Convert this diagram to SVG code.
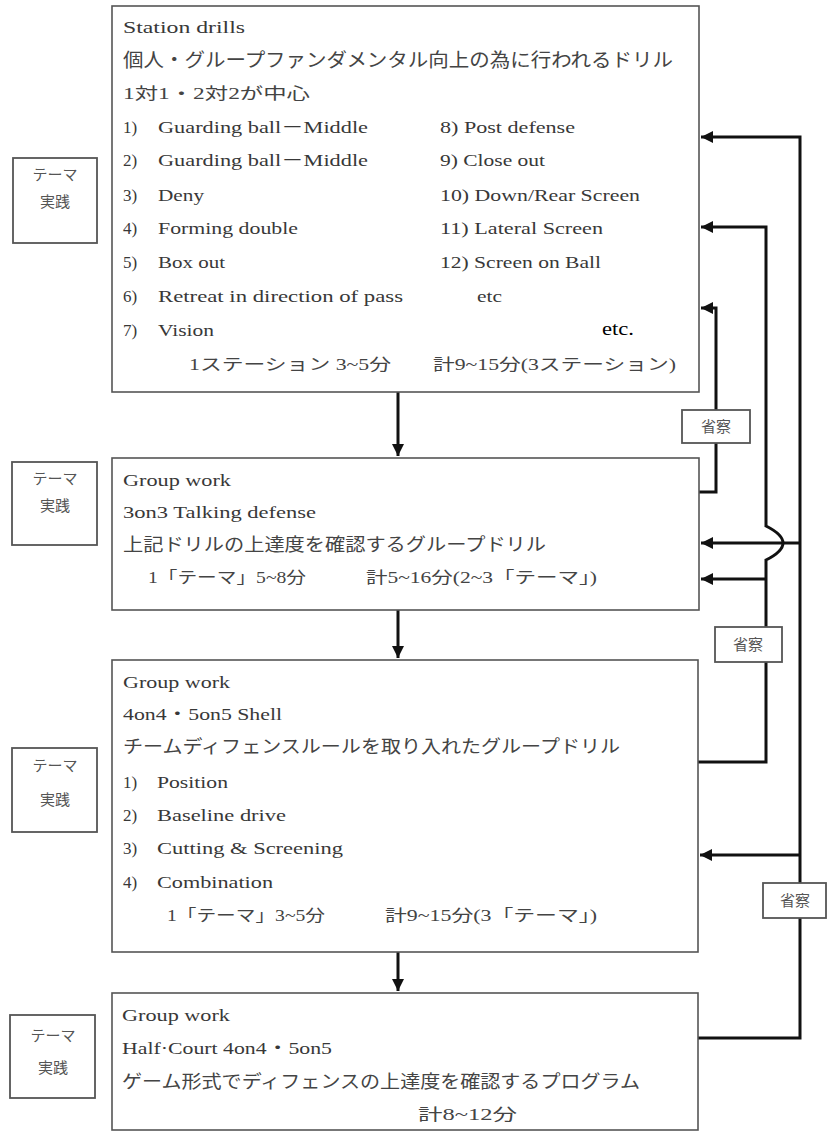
<svg xmlns="http://www.w3.org/2000/svg" width="827" height="1133" viewBox="0 0 827 1133">
<style>
.box{fill:#fff;stroke:#555;stroke-width:1.6}
.lbl{fill:#fff;stroke:#555;stroke-width:1.8}
.t{font-family:"Liberation Serif","Noto Sans CJK JP",serif;font-size:17px;fill:#383838}
.j{font-family:"Liberation Serif","Noto Sans CJK JP",serif;font-size:17px;fill:#444}
.lt{font-family:"Noto Sans CJK JP",sans-serif;font-size:15px;fill:#555;text-anchor:middle}
.c{fill:none;stroke:#111;stroke-width:3}
</style>
<defs>
<marker id="ah" viewBox="0 0 10 10" refX="10" refY="5" markerWidth="4" markerHeight="4" orient="auto" markerUnits="strokeWidth">
<path d="M0,0 L10,5 L0,10 z" fill="#111"/>
</marker>
</defs>
<rect width="827" height="1133" fill="#fff"/>

<g id="connectors">
<path class="c" d="M398,392 V456" marker-end="url(#ah)"/>
<path class="c" d="M398,610 V658" marker-end="url(#ah)"/>
<path class="c" d="M398,952 V991" marker-end="url(#ah)"/>
<path class="c" d="M698,1038 H800 V137 H701" marker-end="url(#ah)"/>
<path class="c" d="M800,543 H701" marker-end="url(#ah)"/>
<path class="c" d="M800,855 H700" marker-end="url(#ah)"/>
<path class="c" d="M698,762 H766 V560 Q800,543 766,526 V227 H701" marker-end="url(#ah)"/>
<path class="c" d="M766,579 H701" marker-end="url(#ah)"/>
<path class="c" d="M699,492 H716 V308 H701" marker-end="url(#ah)"/>
</g>

<g id="reflect1">
<rect class="lbl" x="682" y="410" width="68" height="33"/>
<text class="lt" x="716" y="432">省察</text>
</g>
<g id="reflect2">
<rect class="lbl" x="715" y="627" width="67" height="35"/>
<text class="lt" x="748" y="650">省察</text>
</g>
<g id="reflect3">
<rect class="lbl" x="763" y="883" width="63" height="35"/>
<text class="lt" x="795" y="906">省察</text>
</g>

<g id="label1">
<rect class="lbl" x="13" y="158" width="84" height="85"/>
<text class="lt" x="55" y="180">テーマ</text>
<text class="lt" x="55" y="207">実践</text>
</g>
<g id="label2">
<rect class="lbl" x="12" y="462" width="85" height="83"/>
<text class="lt" x="55" y="484">テーマ</text>
<text class="lt" x="55" y="511">実践</text>
</g>
<g id="label3">
<rect class="lbl" x="12" y="748" width="85" height="84"/>
<text class="lt" x="55" y="771">テーマ</text>
<text class="lt" x="55" y="805">実践</text>
</g>
<g id="label4">
<rect class="lbl" x="10" y="1015" width="85" height="83"/>
<text class="lt" x="53" y="1041">テーマ</text>
<text class="lt" x="53" y="1073">実践</text>
</g>

<g id="station">
<rect class="box" x="112" y="6" width="587" height="386"/>
<text class="t" x="123" y="33" textLength="122" lengthAdjust="spacingAndGlyphs">Station drills</text>
<text class="j" x="123" y="67" font-size="19" textLength="550" lengthAdjust="spacingAndGlyphs" style="font-size:19px">個人・グループファンダメンタル向上の為に行われるドリル</text>
<text class="j" x="123" y="99" textLength="187" lengthAdjust="spacingAndGlyphs" style="font-size:16px">1対1・2対2が中心</text>
<text class="t" x="123" y="133">1)</text><text class="t" x="158" y="133" textLength="210" lengthAdjust="spacingAndGlyphs">Guarding ball－Middle</text>
<text class="t" x="123" y="166">2)</text><text class="t" x="158" y="166" textLength="210" lengthAdjust="spacingAndGlyphs">Guarding ball－Middle</text>
<text class="t" x="123" y="201">3)</text><text class="t" x="158" y="201" textLength="46" lengthAdjust="spacingAndGlyphs">Deny</text>
<text class="t" x="123" y="234">4)</text><text class="t" x="158" y="234" textLength="140" lengthAdjust="spacingAndGlyphs">Forming double</text>
<text class="t" x="123" y="268">5)</text><text class="t" x="158" y="268" textLength="67" lengthAdjust="spacingAndGlyphs">Box out</text>
<text class="t" x="123" y="302">6)</text><text class="t" x="158" y="302" textLength="245" lengthAdjust="spacingAndGlyphs">Retreat in direction of pass</text>
<text class="t" x="123" y="336">7)</text><text class="t" x="158" y="336" textLength="56" lengthAdjust="spacingAndGlyphs">Vision</text>
<text class="t" x="440" y="133" textLength="135" lengthAdjust="spacingAndGlyphs">8) Post defense</text>
<text class="t" x="440" y="166" textLength="105" lengthAdjust="spacingAndGlyphs">9) Close out</text>
<text class="t" x="440" y="201" textLength="200" lengthAdjust="spacingAndGlyphs">10) Down/Rear Screen</text>
<text class="t" x="440" y="234" textLength="163" lengthAdjust="spacingAndGlyphs">11) Lateral Screen</text>
<text class="t" x="440" y="268" textLength="161" lengthAdjust="spacingAndGlyphs">12) Screen on Ball</text>
<text class="t" x="477" y="302" textLength="25" lengthAdjust="spacingAndGlyphs">etc</text>
<text x="602" y="335" font-family="Liberation Serif, serif" font-size="19" fill="#000" textLength="32" lengthAdjust="spacingAndGlyphs">etc.</text>
<text class="j" x="189" y="370" textLength="202" lengthAdjust="spacingAndGlyphs" style="font-size:16px">1ステーション 3~5分</text>
<text class="j" x="433" y="370" textLength="243" lengthAdjust="spacingAndGlyphs" style="font-size:16px">計9~15分(3ステーション)</text>
</g>

<g id="group3on3">
<rect class="box" x="112" y="458" width="587" height="152"/>
<text class="t" x="123" y="486" textLength="108" lengthAdjust="spacingAndGlyphs">Group work</text>
<text class="t" x="123" y="518" textLength="193" lengthAdjust="spacingAndGlyphs">3on3 Talking defense</text>
<text class="j" x="123" y="551" textLength="423" lengthAdjust="spacingAndGlyphs" style="font-size:18px">上記ドリルの上達度を確認するグループドリル</text>
<text class="j" x="148" y="583" textLength="158" lengthAdjust="spacingAndGlyphs" style="font-size:16px">1「テーマ」5~8分</text>
<text class="j" x="366" y="583" textLength="231" lengthAdjust="spacingAndGlyphs" style="font-size:16px">計5~16分(2~3「テーマ」)</text>
</g>

<g id="shell">
<rect class="box" x="112" y="660" width="586" height="292"/>
<text class="t" x="123" y="688" textLength="107" lengthAdjust="spacingAndGlyphs">Group work</text>
<text class="t" x="123" y="720" textLength="159" lengthAdjust="spacingAndGlyphs">4on4・5on5 Shell</text>
<text class="j" x="123" y="753" textLength="497" lengthAdjust="spacingAndGlyphs" style="font-size:18px">チームディフェンスルールを取り入れたグループドリル</text>
<text class="t" x="123" y="788">1)</text><text class="t" x="157" y="788" textLength="71" lengthAdjust="spacingAndGlyphs">Position</text>
<text class="t" x="123" y="821">2)</text><text class="t" x="157" y="821" textLength="129" lengthAdjust="spacingAndGlyphs">Baseline drive</text>
<text class="t" x="123" y="854">3)</text><text class="t" x="157" y="854" textLength="186" lengthAdjust="spacingAndGlyphs">Cutting &amp; Screening</text>
<text class="t" x="123" y="888">4)</text><text class="t" x="157" y="888" textLength="116" lengthAdjust="spacingAndGlyphs">Combination</text>
<text class="j" x="167" y="921" textLength="158" lengthAdjust="spacingAndGlyphs" style="font-size:16px">1「テーマ」3~5分</text>
<text class="j" x="385" y="921" textLength="212" lengthAdjust="spacingAndGlyphs" style="font-size:16px">計9~15分(3「テーマ」)</text>
</g>

<g id="halfcourt">
<rect class="box" x="112" y="993" width="586" height="137"/>
<text class="t" x="122" y="1021" textLength="108" lengthAdjust="spacingAndGlyphs">Group work</text>
<text class="t" x="122" y="1054" textLength="210" lengthAdjust="spacingAndGlyphs">Half·Court 4on4・5on5</text>
<text class="j" x="122" y="1088" textLength="518" lengthAdjust="spacingAndGlyphs" style="font-size:18px">ゲーム形式でディフェンスの上達度を確認するプログラム</text>
<text class="j" x="418" y="1120" textLength="99" lengthAdjust="spacingAndGlyphs" style="font-size:16px">計8~12分</text>
</g>
</svg>
